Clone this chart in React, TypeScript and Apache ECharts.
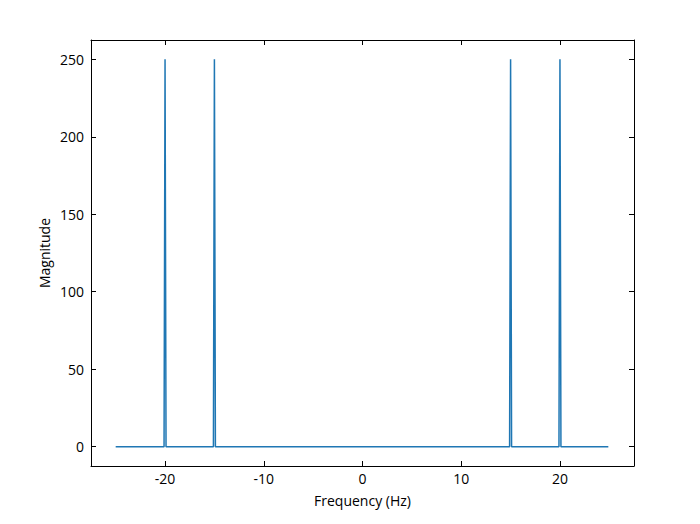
import React, { useEffect, useRef } from "react";
import * as echarts from "echarts";

// Frequency (Hz) and magnitude key points
const freqs = [-25, -20.1, -20, -19.9, -15.1, -15, -14.9, 14.9, 15, 15.1, 19.9, 20, 20.1, 24.9];
const mags = [0, 0, 250, 0, 0, 250, 0, 0, 250, 0, 0, 250, 0, 0];

const xTicks = [-20, -10, 0, 10, 20];
const yTicks = [0, 50, 100, 150, 200, 250];

const FONT = "'Open Sans', 'Noto Sans', sans-serif";

export default function App() {
  const ref = useRef<HTMLDivElement>(null);
  useEffect(() => {
    if (!ref.current) return;
    const chart = echarts.init(ref.current, null, { renderer: "svg" });
    const line = { show: true, onZero: false, lineStyle: { color: "#000", width: 1 } };
    const tick = (vals: number[]) => ({
      show: true,
      inside: true,
      length: 5,
      lineStyle: { color: "#000", width: 1 },
      customValues: vals,
    });
    chart.setOption({
      animation: false,
      backgroundColor: "#fff",
      grid: { left: 91, right: 66, top: 40, bottom: 58, containLabel: false },
      xAxis: [
        {
          type: "value",
          min: -27.5,
          max: 27.5,
          position: "bottom",
          axisLine: line,
          axisTick: tick(xTicks),
          axisLabel: {
            customValues: xTicks,
            color: "#000",
            fontFamily: FONT,
            fontSize: 14,
            margin: 5,
          },
          splitLine: { show: false },
          name: "Frequency (Hz)",
          nameLocation: "middle",
          nameGap: 27,
          nameMoveOverlap: false,
          nameTextStyle: { color: "#000", fontFamily: FONT, fontSize: 14 },
        },
        {
          type: "value",
          min: -27.5,
          max: 27.5,
          position: "top",
          axisLine: line,
          axisTick: tick(xTicks),
          axisLabel: { show: false },
          splitLine: { show: false },
        },
      ],
      yAxis: [
        {
          type: "value",
          min: -12.5,
          max: 262.5,
          position: "left",
          axisLine: line,
          axisTick: tick(yTicks),
          axisLabel: {
            customValues: yTicks,
            color: "#000",
            fontFamily: FONT,
            fontSize: 14,
            margin: 7,
          },
          splitLine: { show: false },
          name: "Magnitude",
          nameLocation: "middle",
          nameGap: 40,
          nameMoveOverlap: false,
          nameTextStyle: { color: "#000", fontFamily: FONT, fontSize: 14 },
        },
        {
          type: "value",
          min: -12.5,
          max: 262.5,
          position: "right",
          axisLine: line,
          axisTick: tick(yTicks),
          axisLabel: { show: false },
          splitLine: { show: false },
        },
      ],
      series: [
        {
          type: "line",
          xAxisIndex: 0,
          yAxisIndex: 0,
          data: freqs.map((f, i) => [f, mags[i]]),
          showSymbol: false,
          symbol: "none",
          lineStyle: { color: "#1f77b4", width: 1.5 },
        },
      ],
    });
    return () => chart.dispose();
  }, []);
  return <div ref={ref} style={{ width: 700, height: 524, margin: -8 }} />;
}
